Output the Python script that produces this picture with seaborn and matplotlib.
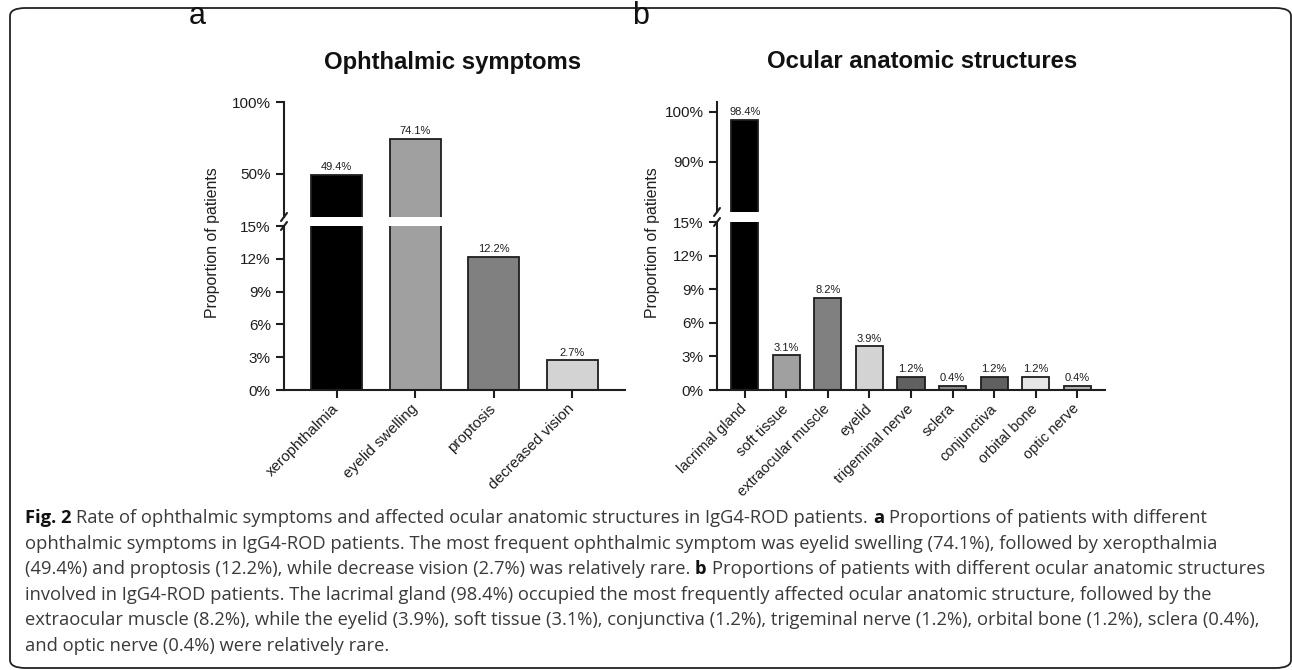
import matplotlib.pyplot as plt
import seaborn as sns
import numpy as np
import pandas as pd
from matplotlib.patches import FancyBboxPatch
from matplotlib.lines import Line2D

# data
symptoms = ["xerophthalmia", "eyelid swelling", "proptosis", "decreased vision"]
symptom_pct = [49.4, 74.1, 12.2, 2.7]
symptom_colors = ["#000000", "#a0a0a0", "#808080", "#d3d3d3"]

structures = ["lacrimal gland", "soft tissue", "extraocular muscle", "eyelid",
              "trigeminal nerve", "sclera", "conjunctiva", "orbital bone", "optic nerve"]
structure_pct = [98.4, 3.1, 8.2, 3.9, 1.2, 0.4, 1.2, 1.2, 0.4]
structure_colors = ["#000000", "#a0a0a0", "#808080", "#d3d3d3", "#606060",
                    "#8c8c8c", "#606060", "#e6e6e6", "#b4b4b4"]

low_ticks = [0, 3, 6, 9, 12, 15]

caption_lines = [
    [("Fig. 2", True), ("Rate of ophthalmic symptoms and affected ocular anatomic structures in IgG4-ROD patients.", False),
     ("a", True), ("Proportions of patients with different", False)],
    [("ophthalmic symptoms in IgG4-ROD patients. The most frequent ophthalmic symptom was eyelid swelling (74.1%), followed by xeropthalmia", False)],
    [("(49.4%) and proptosis (12.2%), while decrease vision (2.7%) was relatively rare.", False), ("b", True),
     ("Proportions of patients with different ocular anatomic structures", False)],
    [("involved in IgG4-ROD patients. The lacrimal gland (98.4%) occupied the most frequently affected ocular anatomic structure, followed by the", False)],
    [("extraocular muscle (8.2%), while the eyelid (3.9%), soft tissue (3.1%), conjunctiva (1.2%), trigeminal nerve (1.2%), orbital bone (1.2%), sclera (0.4%),", False)],
    [("and optic nerve (0.4%) were relatively rare.", False)],
]

W, H = 1292, 670
sns.set_theme(style="ticks")
plt.rcParams['font.family'] = ['Liberation Sans', 'DejaVu Sans']

fig = plt.figure(figsize=(W / 100, H / 100), dpi=100)


def px_axes(x0, y0, x1, y1):
    return fig.add_axes([x0 / W, 1 - y1 / H, (x1 - x0) / W, (y1 - y0) / H])


def fig_xy(x, y):
    return x / W, 1 - y / H


def broken_panel(cats, vals, colors, x0, x1, y_top, y_brk1, y_brk2, y_bot,
                 hi_lim, hi_ticks, xlab_size):
    ax_hi = px_axes(x0, y_top, x1, y_brk1)
    ax_lo = px_axes(x0, y_brk2, x1, y_bot)
    df = pd.DataFrame({"cat": cats, "val": vals})
    for ax in (ax_hi, ax_lo):
        sns.barplot(data=df, x="cat", y="val", hue="cat", palette=colors, legend=False,
                    width=0.65, edgecolor="#1e1e1e", linewidth=1.3, saturation=1, ax=ax)
        ax.set_xlim(-0.67, len(cats) - 0.33)
        ax.set_xlabel("")
        ax.set_ylabel("")
        ax.patch.set_alpha(0)
        for s in ("top", "right"):
            ax.spines[s].set_visible(False)
        for s in ("left", "bottom"):
            ax.spines[s].set_linewidth(1.5)
            ax.spines[s].set_color("#1e1e1e")
        ax.tick_params(axis="both", length=6, width=1.5, color="#1e1e1e",
                       labelsize=11, labelcolor="#1e1e1e", direction="out")

    ax_hi.set_ylim(*hi_lim)
    ax_hi.set_yticks(hi_ticks)
    ax_hi.set_yticklabels([f"{t}%" for t in hi_ticks])
    ax_hi.spines["bottom"].set_visible(False)
    ax_hi.tick_params(axis="x", bottom=False, labelbottom=False)

    ax_lo.set_ylim(0, 15)
    ax_lo.set_yticks(low_ticks)
    ax_lo.set_yticklabels([f"{t}%" for t in low_ticks])
    ax_lo.set_xticks(range(len(cats)))
    ax_lo.set_xticklabels(cats, rotation=45, ha="right", va="center",
                          rotation_mode="anchor", fontsize=xlab_size)
    ax_lo.tick_params(axis="x", pad=6)

    for i, v in enumerate(vals):
        ax = ax_hi if v > 15 else ax_lo
        ax.annotate(f"{v}%", (i, v), xytext=(0, 2), textcoords="offset points",
                    ha="center", va="bottom", fontsize=8, color="#1e1e1e")

    # break marks on the y axis
    for yb in (y_brk1, y_brk2):
        xa, ya = fig_xy(x0 - 3, yb + 4)
        xb, yb2 = fig_xy(x0 + 3, yb - 4)
        fig.add_artist(Line2D([xa, xb], [ya, yb2], color="#1e1e1e", lw=1.5))
    return ax_hi, ax_lo


broken_panel(symptoms, symptom_pct, symptom_colors, 284, 625, 102, 217, 226, 390,
             (20, 100), [50, 100], 11)
broken_panel(structures, structure_pct, structure_colors, 717, 1105, 102, 212, 222, 390,
             (80, 102), [90, 100], 10.5)

# titles, panel letters, y labels
fig.text(*fig_xy(453, 62), "Ophthalmic symptoms", ha="center", va="center",
         fontsize=17.2, fontweight="bold", color="#111111")
fig.text(*fig_xy(922, 62), "Ocular anatomic structures", ha="center", va="center",
         fontsize=17.2, fontweight="bold", color="#111111")
fig.text(*fig_xy(197, 16), "a", ha="center", va="center", fontsize=22, color="#111111")
fig.text(*fig_xy(641, 16), "b", ha="center", va="center", fontsize=22, color="#111111")
fig.text(*fig_xy(212, 243), "Proportion of patients", rotation=90, ha="center", va="center",
         fontsize=11.4, color="#1e1e1e")
fig.text(*fig_xy(652, 243), "Proportion of patients", rotation=90, ha="center", va="center",
         fontsize=11.4, color="#1e1e1e")

# rounded frame
x0f, y0f = fig_xy(10, 668)
x1f, y1f = fig_xy(1291, 8)
frame = FancyBboxPatch((x0f, y0f), x1f - x0f, y1f - y0f, transform=fig.transFigure,
                       boxstyle="round,pad=0,rounding_size=0.012", fill=False,
                       edgecolor="#222222", lw=1.3)
fig.add_artist(frame)

# caption, font size fitted to the longest line
renderer = fig.canvas.get_renderer()
cap_font = ['Open Sans', 'DejaVu Sans']


def text_width(s, size, bold):
    t = fig.text(0, 0, s, fontsize=size, family=cap_font,
                 fontweight="bold" if bold else "normal")
    w = t.get_window_extent(renderer).width
    t.remove()
    return w


def line_width(runs, size):
    sp = text_width("x x", size, False) - text_width("xx", size, False)
    return sum(text_width(s, size, b) for s, b in runs) + sp * (len(runs) - 1)


base = 10.0
cap_size = base * 1237 / line_width(caption_lines[2], base)
space_w = text_width("x x", cap_size, False) - text_width("xx", cap_size, False)

for k, runs in enumerate(caption_lines):
    x = 25
    y = 518 + 25.6 * k
    for s, b in runs:
        t = fig.text(*fig_xy(x, y), s, fontsize=cap_size, family=cap_font, ha="left", va="center",
                     fontweight="bold" if b else "normal", color="#111111" if b else "#3a3a3a")
        x += t.get_window_extent(renderer).width + space_w

fig.savefig("out.png", dpi=100)
